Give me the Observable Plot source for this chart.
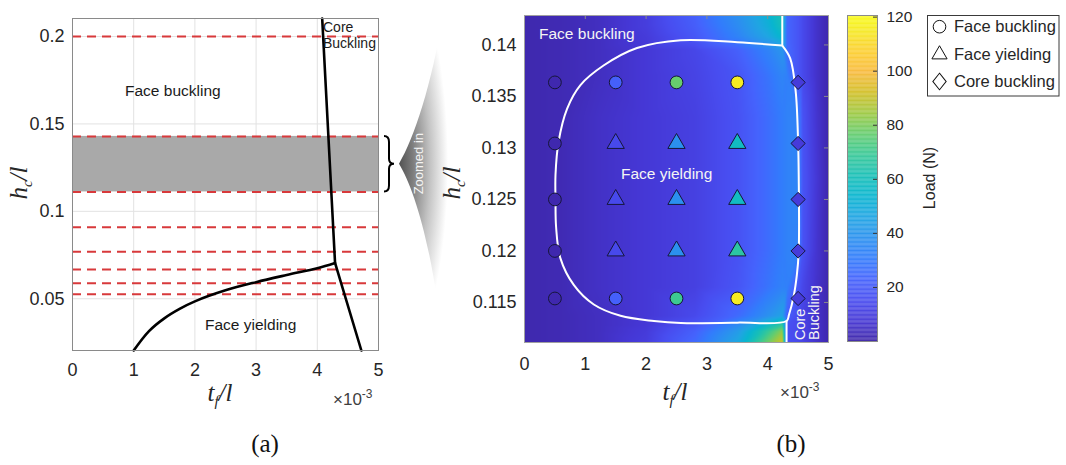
<!DOCTYPE html>
<html><head><meta charset="utf-8">
<script src="https://cdn.jsdelivr.net/npm/d3@7"></script>
<script src="https://cdn.jsdelivr.net/npm/@observablehq/plot@0.6"></script>
<style>
html,body{margin:0;padding:0;background:#fff;}
#fig{position:relative;width:1066px;height:465px;overflow:hidden;background:#fff;}
#fig > svg{position:absolute;overflow:visible;}
</style></head><body><div id="fig"></div>
<script>
// ---------------- data ----------------
const tfTicks = [0, 1, 2, 3, 4, 5];
const hcTicksA = [0.05, 0.1, 0.15, 0.2];
const hcTicksB = [0.115, 0.12, 0.125, 0.13, 0.135, 0.14];
const loadTicks = [20, 40, 60, 80, 100, 120];
const loadDomain = [0, 120.6];

// panel (a): sampled core heights (red dashed) and the zoomed band
const sampledHc = [1/5, 1/7, 1/9, 1/11, 1/13, 1/15, 1/17, 1/19];
const zoomRange = [1/9, 1/7];

// panel (a): failure-mode boundaries
const coreTfA = [4.08, 4.29, 4.72];
const coreHcA = [0.2103, 0.0705, 0.0204];
const yieldTfA = [1.0, 1.25, 1.5, 1.75, 2.0, 2.5, 3.0, 3.5, 4.0, 4.29];
const yieldHcA = [0.0204, 0.0315, 0.0388, 0.0442, 0.0485, 0.0548, 0.0595, 0.0636, 0.0675, 0.0705];

// panel (b): region boundary (white line)
const regionTf = [4.24, 3.5, 2.57, 1.85, 1.30, 0.92, 0.70, 0.56, 0.51, 0.51, 0.52, 0.59, 0.81, 1.14, 1.58, 2.13, 2.57, 3.5, 4.31, 4.35, 4.43, 4.48, 4.51, 4.51, 4.50, 4.46, 4.37, 4.24];
const regionHc = [0.13994, 0.14026, 0.14046, 0.1397, 0.1380, 0.1361, 0.1338, 0.1306, 0.1274, 0.1250, 0.1223, 0.1193, 0.1167, 0.1148, 0.1137, 0.1132, 0.1130, 0.11304, 0.1132, 0.1138, 0.1157, 0.1177, 0.1199, 0.1274, 0.1306, 0.1355, 0.1387, 0.13994];
const topStubTf = [4.24, 4.24];
const topStubHc = [0.13994, 1/7];
const bottomStubTf = [4.31, 4.31];
const bottomStubHc = [0.1132, 1/9];

// panel (b): load field (rows = hc, columns = tf)
const heatTf = [0, 0.6, 1.2, 2.0, 2.8, 3.5, 4.0, 4.24, 4.32, 4.5, 4.58, 4.8, 5.0];
const heatHc = [0.1111, 0.1122, 0.1128, 0.1137, 0.1165, 0.1200, 0.1270, 0.1330, 0.1370, 0.1395, 0.1408, 0.1418, 0.1429];
const heatLoad = [
  [1, 2, 4, 10, 25, 47, 78, 92, 16, 14, 12, 6, 1],
  [1, 2, 4, 9, 22, 42, 68, 82, 16, 14, 12, 6, 1],
  [1, 2, 4, 8, 18, 36, 57, 68, 17, 14, 12, 6, 1],
  [1, 2, 4, 8, 14, 25, 38, 45, 22, 15, 12, 6, 1],
  [1, 2, 5, 8, 11, 18, 28, 33, 32, 18, 13, 6, 1],
  [1, 2, 5, 8, 11, 17, 26, 31, 33, 33, 17, 7, 1],
  [1, 2, 5, 8, 11, 17, 26, 31, 33, 34, 18, 8, 1],
  [1, 2, 5, 8, 11, 17, 26, 31, 33, 33, 17, 7, 1],
  [1, 2, 4, 8, 12, 18, 28, 34, 32, 18, 14, 6, 1],
  [1, 2, 4, 8, 13, 22, 33, 40, 25, 18, 14, 6, 1],
  [1, 2, 4, 9, 19, 33, 46, 55, 24, 18, 14, 6, 1],
  [1, 2, 4, 10, 21, 36, 50, 60, 24, 18, 14, 6, 1],
  [1, 2, 4, 10, 22, 38, 52, 62, 24, 18, 14, 6, 1]
];

// panel (b): tested specimens
const sampleTf = [0.5, 1.5, 2.5, 3.5, 4.5];
const sampleHc = [3/22, 3/23, 3/24, 3/25, 3/26];
const modeNames = ["Face buckling", "Face yielding", "Core buckling"];
const sampleMode = [
  [0, 0, 0, 0, 2],
  [0, 1, 1, 1, 2],
  [0, 1, 1, 1, 2],
  [0, 1, 1, 1, 2],
  [0, 0, 0, 0, 2]
];
const sampleLoad = [
  [1, 22, 77, 116, 9],
  [1, 14, 38, 58, 9],
  [1, 14, 38, 58, 9],
  [1, 14, 38, 66, 9],
  [1, 22, 70, 116, 9]
];

// parula colormap stops
const parulaColors = ["#3e26a8","#4537d5","#484df0","#4563fd","#327cfc","#2b91ef","#20a5e3","#08b5d0","#19bfb6","#37c897","#64cd6f","#9dc943","#d1bf27","#f8ba3d","#fccf30","#f5e924","#f9fb15"];
const parulaPos = [0,4,8,12,16,20,24,28,32,36,40,44,48,52,56,60,63].map(i => i / 63);

// ---------------- build ----------------
const parula = d3.scaleLinear().domain(parulaPos).range(parulaColors).interpolate(d3.interpolateRgb).clamp(true);
const fig = document.getElementById("fig");
const baseStyle = {fontFamily: "'Liberation Sans', Arial, sans-serif", fontSize: "18px", color: "#262626", background: "transparent", overflow: "visible"};
function place(node, left, top) { node.style.left = left + "px"; node.style.top = top + "px"; fig.appendChild(node); return node; }
const pts = (xs, ys) => xs.map((x, i) => ({x, y: ys[i]}));

// Panel (a)
const A = Plot.plot({
  width: 400, height: 380,
  marginLeft: 72, marginRight: 22, marginTop: 18, marginBottom: 30,
  style: baseStyle,
  x: {domain: [0, 5]},
  y: {domain: [0.0204, 0.2103]},
  marks: [
    Plot.gridX(tfTicks, {stroke: "#e2e2e2", strokeOpacity: 1}),
    Plot.gridY(hcTicksA, {stroke: "#e2e2e2", strokeOpacity: 1}),
    Plot.rect([zoomRange], {x1: 0, x2: 5, y1: d => d[0], y2: d => d[1], fill: "#a9a9a9"}),
    Plot.ruleY(sampledHc, {stroke: "#d8393b", strokeWidth: 2, strokeDasharray: "9,6"}),
    Plot.line(pts(yieldTfA, yieldHcA), {x: "x", y: "y", stroke: "black", strokeWidth: 2.6, curve: "catmull-rom"}),
    Plot.line(pts(coreTfA, coreHcA), {x: "x", y: "y", stroke: "black", strokeWidth: 2.6}),
    Plot.frame({stroke: "#8a8a8a"}),
    Plot.axisX(tfTicks, {tickSize: 0, tickPadding: 13, label: null, tickFormat: d => String(d)}),
    Plot.axisY(hcTicksA, {tickSize: 0, tickPadding: 8, label: null, tickFormat: d => String(d)})
  ]
});
place(A, 0, 0);

// Panel (b)
const heatCells = [];
heatHc.forEach((hc, i) => heatTf.forEach((tf, j) => heatCells.push({tf, hc, load: heatLoad[i][j]})));
const samples = [];
sampleHc.forEach((hc, i) => sampleTf.forEach((tf, j) => samples.push({tf, hc, mode: modeNames[sampleMode[i][j]], load: sampleLoad[i][j]})));

const B = Plot.plot({
  width: 400, height: 380,
  marginLeft: 94, marginRight: 2, marginTop: 15, marginBottom: 38,
  style: baseStyle,
  x: {domain: [0, 5]},
  y: {domain: [1/9, 1/7]},
  color: {type: "linear", domain: loadDomain, interpolate: t => parula(t)},
  symbol: {domain: modeNames, range: ["circle", "triangle", "diamond2"]},
  marks: [
    Plot.raster(heatCells, {x: "tf", y: "hc", fill: "load", interpolate: "barycentric", x1: 0, x2: 5, y1: 1/9, y2: 1/7}),
    Plot.line(pts(regionTf, regionHc), {x: "x", y: "y", stroke: "white", strokeWidth: 2, curve: "catmull-rom"}),
    Plot.line(pts(topStubTf, topStubHc), {x: "x", y: "y", stroke: "white", strokeWidth: 2}),
    Plot.line(pts(bottomStubTf, bottomStubHc), {x: "x", y: "y", stroke: "white", strokeWidth: 2}),
    Plot.dot(samples, {x: "tf", y: "hc", fill: "load", symbol: "mode", r: 6.4, stroke: "#16163a", strokeWidth: 1}),
    Plot.tickX(tfTicks.slice(1, -1), {x: d => d, insetBottom: 323, stroke: "#8a8a8a"}),
    Plot.tickY(hcTicksB, {y: d => d, insetLeft: 300, stroke: "#8a8a8a"}),
    Plot.frame({stroke: "#a0a0a0"}),
    Plot.axisX(tfTicks, {tickSize: 0, tickPadding: 15, label: null, tickFormat: d => String(d)}),
    Plot.axisY(hcTicksB, {tickSize: 0, tickPadding: 8, label: null, tickFormat: d => String(d)})
  ]
});
place(B, 430, 0);

// Colorbar
const barSteps = d3.range(0, 120.6, 0.3);
const C = Plot.plot({
  width: 100, height: 380,
  marginLeft: 7, marginRight: 63, marginTop: 15, marginBottom: 39,
  style: Object.assign({}, baseStyle, {fontSize: "15.5px"}),
  x: {domain: [0, 1], axis: null},
  y: {domain: loadDomain},
  color: {type: "linear", domain: loadDomain, interpolate: t => parula(t)},
  marks: [
    Plot.rect(barSteps, {x1: 0, x2: 1, y1: d => d, y2: d => Math.min(d + 0.35, loadDomain[1]), fill: d => d + 0.15}),
    Plot.tickY(loadTicks, {y: d => d, insetLeft: 26, stroke: "#333"}),
    Plot.frame({stroke: "#8a8a8a"}),
    Plot.axisY(loadTicks, {anchor: "right", tickSize: 0, tickPadding: 9, label: null})
  ]
});
place(C, 840, 0);

// ---------------- overlay: labels, brace, funnel, legend ----------------
const yA = A.scale("y");
const bandTop = yA.apply(1/7), bandBot = yA.apply(1/9), bandMid = (bandTop + bandBot) / 2;

const ov = d3.select(fig).append("svg").attr("width", 1066).attr("height", 465)
  .style("left", "0px").style("top", "0px")
  .attr("font-family", "'Liberation Sans', Arial, sans-serif");

// funnel
const defs = ov.append("defs");
const g = defs.append("radialGradient").attr("id", "fg").attr("gradientUnits", "userSpaceOnUse")
  .attr("cx", 398).attr("cy", bandMid).attr("r", 50)
  .attr("gradientTransform", `translate(398,${bandMid}) scale(1,3.8) translate(-398,${-bandMid})`);
[[0, "#4f4f4f"], [0.3, "#7d7d7d"], [0.65, "#c4c4c4"], [1, "#ffffff"]].forEach(([o, c]) => g.append("stop").attr("offset", o).attr("stop-color", c));
ov.append("path")
  .attr("d", `M399,${bandMid} C414,${bandMid - 25} 432,${bandMid - 80} 443,15 L448,15 L448,345 L443,345 C432,${bandMid + 80} 414,${bandMid + 25} 399,${bandMid} Z`)
  .attr("fill", "url(#fg)");
ov.append("text").attr("transform", `translate(423,${bandMid}) rotate(-90)`).attr("text-anchor", "middle")
  .attr("font-size", 13).attr("fill", "#f4f4f4").text("Zoomed in");

// brace
ov.append("path")
  .attr("d", `M384,${bandTop} Q389,${bandTop} 389,${bandTop + 6} L389,${bandMid - 5} Q389,${bandMid} 394,${bandMid} Q389,${bandMid} 389,${bandMid + 5} L389,${bandBot - 6} Q389,${bandBot} 384,${bandBot}`)
  .attr("fill", "none").attr("stroke", "black").attr("stroke-width", 2);

function label(x, y, s, size, fill, anchor = "start", rotate = 0) {
  return ov.append("text").attr("transform", `translate(${x},${y})` + (rotate ? ` rotate(${rotate})` : ""))
    .attr("text-anchor", anchor).attr("font-size", size).attr("fill", fill).text(s);
}
// panel (a) annotations
label(125, 96, "Face buckling", 15.5, "#1a1a1a");
label(205, 330, "Face yielding", 15.5, "#1a1a1a");
label(323, 32, "Core", 14, "#1a1a1a");
label(323, 48, "Buckling", 14, "#1a1a1a");
// panel (b) annotations
label(539, 39, "Face buckling", 15.5, "#f4f4f4");
label(621, 179, "Face yielding", 15.5, "#f4f4f4");
label(805, 340, "Core", 14.5, "#f4f4f4", "start", -90);
label(819, 340, "Buckling", 14.5, "#f4f4f4", "start", -90);
// colorbar label
label(935, 178, "Load (N)", 16, "#262626", "middle", -90);

// math axis labels
function mathLabel(x, y, main, sub, rest, rotate) {
  const t = ov.append("text").attr("transform", `translate(${x},${y})` + (rotate ? ` rotate(${rotate})` : ""))
    .attr("text-anchor", "middle").attr("font-family", "'Liberation Serif', 'Times New Roman', serif")
    .attr("font-style", "italic").attr("font-size", 25).attr("fill", "#262626");
  t.append("tspan").text(main);
  t.append("tspan").attr("font-size", 15).attr("dy", 5).text(sub);
  t.append("tspan").attr("dy", -5).text(rest);
}
mathLabel(27, 183, "h", "c", "/l", -90);
mathLabel(460, 183, "h", "c", "/l", -90);
mathLabel(220, 401, "t", "f", "/l", 0);
mathLabel(675, 400, "t", "f", "/l", 0);

function exponent(x, y) {
  const t = ov.append("text").attr("x", x).attr("y", y).attr("font-size", 17).attr("fill", "#404040");
  t.append("tspan").text("\u00d710");
  t.append("tspan").attr("font-size", 12).attr("dy", -7).text("-3");
}
exponent(333, 405);
exponent(780, 398);

// panel letters
ov.append("text").attr("x", 265).attr("y", 452).attr("text-anchor", "middle").attr("font-family", "'Liberation Serif', 'Times New Roman', serif").attr("font-size", 25).attr("fill", "#111").text("(a)");
ov.append("text").attr("x", 791).attr("y", 452).attr("text-anchor", "middle").attr("font-family", "'Liberation Serif', 'Times New Roman', serif").attr("font-size", 25).attr("fill", "#111").text("(b)");

// legend
ov.append("rect").attr("x", 927.5).attr("y", 15.5).attr("width", 131.5).attr("height", 80.5).attr("fill", "white").attr("stroke", "#3a3a3a");
const legendSymbols = [d3.symbolCircle, d3.symbolTriangle, d3.symbolDiamond2];
const legendSizes = [125, 100, 140];
const legendY = [26.7, 54.5, 81.5];
const legendBase = [31.7, 59.7, 86.5];
modeNames.forEach((name, i) => {
  ov.append("path").attr("d", d3.symbol(legendSymbols[i], legendSizes[i])())
    .attr("transform", `translate(939.5,${legendY[i]})` + (i === 2 ? " scale(0.9,1.12)" : ""))
    .attr("fill", "white").attr("stroke", "#111").attr("stroke-width", 1);
  ov.append("text").attr("x", 954).attr("y", legendBase[i]).attr("font-size", 16.5).attr("fill", "#262626").text(name);
});
</script></body></html>
